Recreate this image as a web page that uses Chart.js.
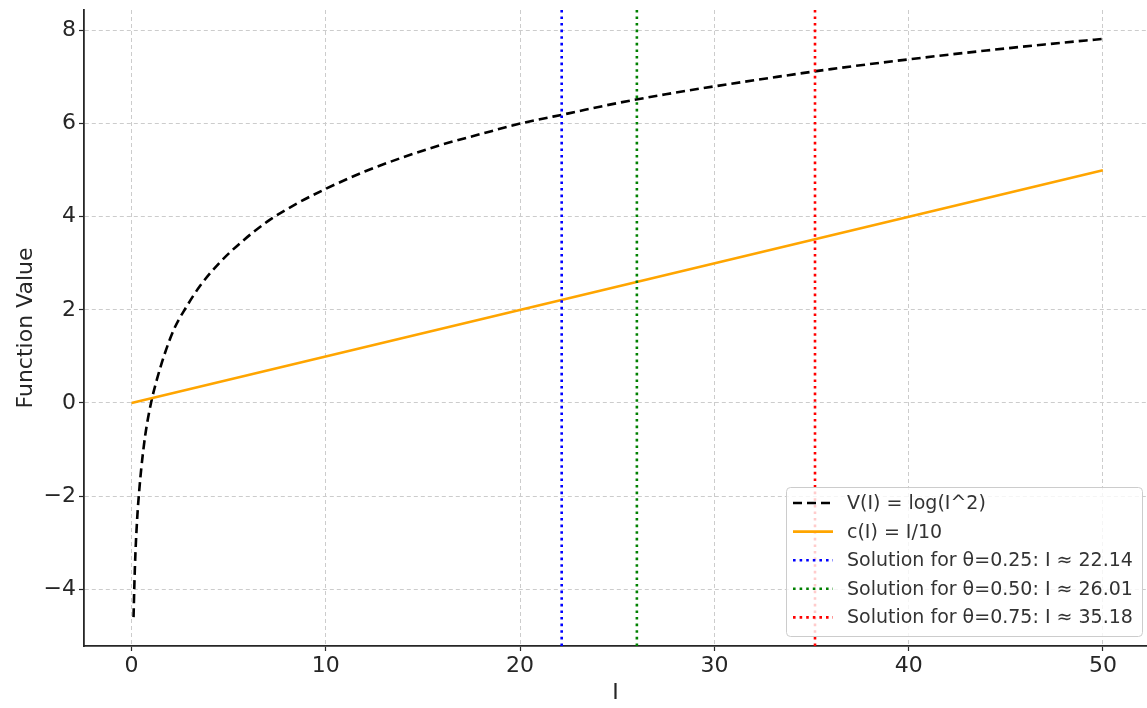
<!DOCTYPE html>
<html>
<head>
<meta charset="utf-8">
<script src="https://cdn.jsdelivr.net/npm/chart.js@4.4.1/dist/chart.umd.min.js"></script>
<style>
    body { margin: 0; background: #fff; }
    canvas { display: block; }
</style>
</head>
<body>
<canvas id="funcChart" width="1147" height="708"></canvas>
<script>
// Tick labels
const xTicks = [0, 10, 20, 30, 40, 50];
const yTicks = [-4, -2, 0, 2, 4, 6, 8];

// Axis limits
const xLimits = [-2.45, 52.27];
const yLimits = [-5.22, 8.44];

// V(I) = log(I^2)
const curveI = [0.1, 0.15, 0.2, 0.3, 0.4, 0.5, 0.7, 1.0, 1.3, 1.7, 2.2, 2.8, 3.5, 4.5, 5.5, 7, 8.5, 10, 12, 14, 16, 18, 20, 22.5, 25, 27.5, 30, 33, 36, 40, 44, 47, 50];
const curveV = [-4.6, -3.8, -3.2, -2.4, -1.85, -1.4, -0.7, 0, 0.5, 1.05, 1.6, 2.05, 2.5, 3.0, 3.4, 3.9, 4.28, 4.6, 4.97, 5.28, 5.55, 5.78, 6.0, 6.22, 6.44, 6.63, 6.8, 6.99, 7.17, 7.38, 7.57, 7.7, 7.82];

// c(I) = I/10
const lineI = [0, 50];
const lineC = [0, 5];

// Solutions (vertical dotted lines)
const solutionI = [22.14, 26.01, 35.18];
const solutionLabels = ['Solution for θ=0.25: I ≈ 22.14', 'Solution for θ=0.50: I ≈ 26.01', 'Solution for θ=0.75: I ≈ 35.18'];
const solutionColors = ['#0000ff', '#008000', '#ff0000'];

const FONT = "'DejaVu Sans', sans-serif";

const datasets = [
    {
        label: 'V(I) = log(I^2)',
        data: curveI.map((x, i) => ({ x: x, y: curveV[i] })),
        borderColor: '#000000',
        borderWidth: 2.6,
        borderDash: [9, 5],
        cubicInterpolationMode: 'monotone',
        pointRadius: 0,
        order: 3
    },
    {
        label: 'c(I) = I/10',
        data: lineI.map((x, i) => ({ x: x, y: lineC[i] })),
        borderColor: '#ffa500',
        borderWidth: 2.6,
        pointRadius: 0,
        order: 2
    }
];

solutionI.forEach((v, i) => {
    datasets.push({
        label: solutionLabels[i],
        data: [{ x: v, y: yLimits[0] }, { x: v, y: yLimits[1] }],
        borderColor: solutionColors[i],
        borderWidth: 2.6,
        borderDash: [2.6, 4],
        pointRadius: 0,
        order: 1
    });
});

// Legend drawn inside the plot, bottom right
const legendBox = {
    id: 'legendBox',
    afterDraw(chart) {
        const ctx = chart.ctx;
        const area = chart.chartArea;
        const w = 356, h = 149;
        const x0 = area.right - 5 - w;
        const y0 = area.bottom - 10 - h;
        ctx.save();
        ctx.beginPath();
        ctx.roundRect(x0 + 0.5, y0 + 0.5, w, h, 4);
        ctx.fillStyle = 'rgba(255,255,255,0.8)';
        ctx.fill();
        ctx.strokeStyle = '#cccccc';
        ctx.lineWidth = 1;
        ctx.stroke();

        ctx.font = '19px ' + FONT;
        ctx.textBaseline = 'middle';
        chart.data.datasets.forEach((ds, i) => {
            const cy = y0 + 16 + i * 28.6;
            ctx.beginPath();
            ctx.setLineDash(ds.borderDash || []);
            ctx.strokeStyle = ds.borderColor;
            ctx.lineWidth = ds.borderWidth;
            ctx.moveTo(x0 + 7, cy);
            ctx.lineTo(x0 + 47, cy);
            ctx.stroke();
            ctx.setLineDash([]);
            ctx.fillStyle = '#333333';
            ctx.fillText(ds.label, x0 + 61, cy + 1);
        });
        ctx.restore();
    }
};

function minusLabel(value) {
    return value < 0 ? '\u2212' + Math.abs(value) : String(value);
}

const ctx = document.getElementById('funcChart').getContext('2d');

new Chart(ctx, {
    type: 'line',
    data: { datasets: datasets },
    options: {
        responsive: false,
        animation: false,
        layout: { padding: { top: 10, right: 0, left: 0, bottom: 0 } },
        plugins: {
            legend: { display: false },
            tooltip: { enabled: false }
        },
        scales: {
            x: {
                type: 'linear',
                min: xLimits[0],
                max: xLimits[1],
                afterBuildTicks: function(scale) {
                    scale.ticks = xTicks.map(v => ({ value: v }));
                },
                afterFit: function(scale) {
                    scale.height = 62;
                    scale.paddingLeft = 0;
                    scale.paddingRight = 0;
                },
                ticks: {
                    callback: minusLabel,
                    color: '#262626',
                    font: { family: FONT, size: 22 },
                    padding: 2,
                    maxRotation: 0,
                    autoSkip: false
                },
                grid: {
                    color: '#cccccc',
                    lineWidth: 1,
                    borderDash: [4, 3],
                    tickColor: '#262626',
                    tickLength: 5,
                    tickWidth: 1.2,
                    tickBorderDash: []
                },
                border: { display: true, color: '#262626', width: 1.8, dash: [4, 3] },
                title: {
                    display: true,
                    text: 'I',
                    color: '#262626',
                    font: { family: FONT, size: 22 },
                    padding: { top: 0, bottom: 2 }
                }
            },
            y: {
                type: 'linear',
                min: yLimits[0],
                max: yLimits[1],
                afterBuildTicks: function(scale) {
                    scale.ticks = yTicks.map(v => ({ value: v }));
                },
                afterFit: function(scale) {
                    scale.width = 84;
                    scale.paddingTop = 0;
                    scale.paddingBottom = 0;
                },
                ticks: {
                    callback: minusLabel,
                    color: '#262626',
                    font: { family: FONT, size: 22 },
                    padding: 3,
                    autoSkip: false
                },
                grid: {
                    color: '#cccccc',
                    lineWidth: 1,
                    borderDash: [4, 3],
                    tickColor: '#262626',
                    tickLength: 5,
                    tickWidth: 1.2,
                    tickBorderDash: []
                },
                border: { display: true, color: '#262626', width: 1.8, dash: [4, 3] },
                title: {
                    display: true,
                    text: 'Function Value',
                    color: '#262626',
                    font: { family: FONT, size: 22 },
                    padding: { top: 13, bottom: 0 }
                }
            }
        }
    },
    plugins: [legendBox]
});
</script>
</body>
</html>
